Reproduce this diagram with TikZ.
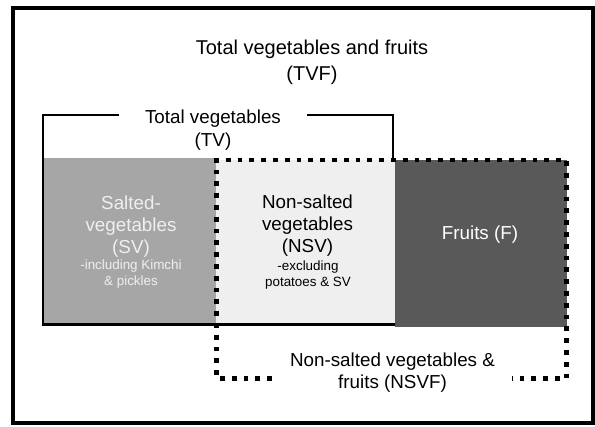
\documentclass[tikz,border=0pt]{standalone}
\usepackage{fontspec}
\setmainfont{Liberation Sans}
\usetikzlibrary{positioning}
\definecolor{svgray}{HTML}{A6A6A6}
\definecolor{nsvgray}{HTML}{EFEFEF}
\definecolor{frgray}{HTML}{595959}

\begin{document}
\begin{tikzpicture}[x=1pt,y=-1pt,
                    block/.style={inner sep=0pt,anchor=north west},
                    lbl/.style={align=center,inner sep=0pt,font=\fontsize{18.8}{22}\selectfont},
                    note/.style={align=center,inner sep=0pt,font=\fontsize{13.4}{16}\selectfont},
                    bracket/.style={line width=2.4pt},
                    dotline/.style={line width=4.8pt,dash pattern=on 4.8pt off 7pt}]
  \path[use as bounding box,fill=white] (0,0) rectangle (595,427);
  \draw[line width=4pt] (13,8) rectangle (593,423.5);
  \node[block,fill=svgray,minimum width=172pt,minimum height=167pt] (sv) at (44,158) {};
  \node[block,fill=nsvgray,minimum width=179pt,minimum height=164pt] (nsv) at (216,160) {};
  \node[block,fill=frgray,minimum width=172pt,minimum height=167pt] (fr) at (395,160) {};
  \node[lbl,font=\fontsize{20}{25.7}\selectfont] (tvf) at (312,62.5) {Total vegetables and fruits\\(TVF)};
  \node[lbl,font=\fontsize{18.8}{23.5}\selectfont] (tv) at (213,130) {Total vegetables\\(TV)};
  \node[lbl,text=nsvgray] (svtxt) at (131,226.5) {Salted-\\vegetables\\(SV)};
  \node[note,text=nsvgray] (svnote) at (131,274.3) {-including Kimchi\\\& pickles};
  \node[lbl] (nsvtxt) at (307.5,225.5) {Non-salted\\vegetables\\(NSV)};
  \node[note] (nsvnote) at (308,275) {-excluding\\potatoes \& SV};
  \node[lbl,text=white] (frtxt) at (480,235) {Fruits (F)};
  \node[lbl] (nsvf) at (392.5,372.5) {Non-salted vegetables \&\\fruits (NSVF)};
  \draw[bracket] (119,115) -| (43,324.5) -- (395,324.5);
  \draw[bracket] (307,115) -| (393,158);
  \draw[dotline] (272,378.5) -- (216.5,378.5) -- (216.5,160) -- (566.7,160) -- (566.7,378.5) -- (511.5,378.5);
\end{tikzpicture}
\end{document}
